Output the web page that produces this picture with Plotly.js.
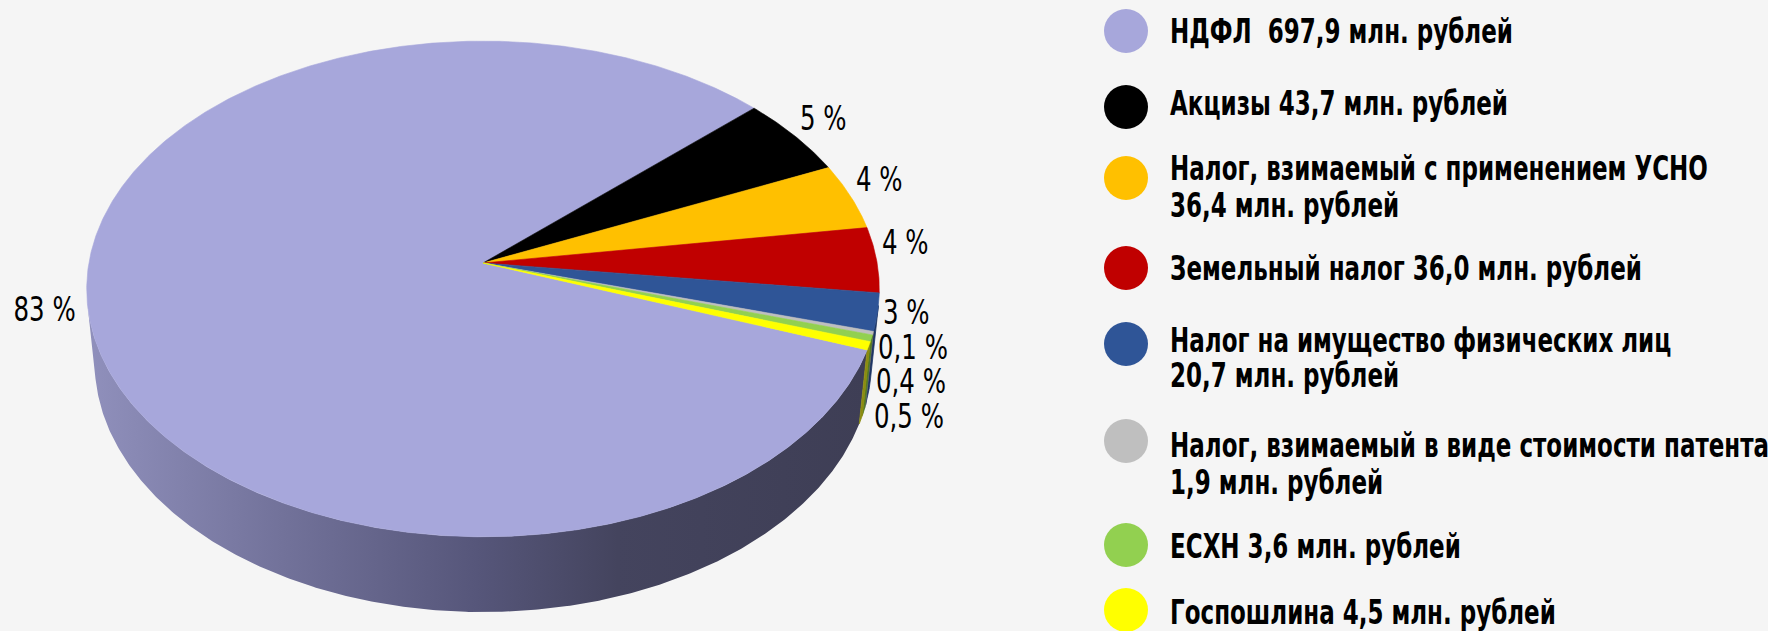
<!DOCTYPE html>
<html>
<head>
<meta charset="utf-8">
<script src="https://cdn.plot.ly/plotly-3.0.1.min.js"></script>
<style>
  html, body { margin: 0; padding: 0; background: #f5f5f5; }
  #chart { width: 1768px; height: 631px; }
</style>
</head>
<body>
<div id="chart"></div>
<script>
// ---------------- DATA ----------------
const categories = [
  'НДФЛ',
  'Акцизы',
  'Налог, взимаемый с применением УСНО',
  'Земельный налог',
  'Налог на имущество физических лиц',
  'Налог, взимаемый в виде стоимости патента',
  'ЕСХН',
  'Госпошлина'
];
const values = [697.9, 43.7, 36.4, 36.0, 20.7, 1.9, 3.6, 4.5]; // млн. рублей
const pctLabels = ['83 %', '5 %', '4 %', '4 %', '3 %', '0,1 %', '0,4 %', '0,5 %'];
const legendLabels = [
  ['НДФЛ  697,9 млн. рублей'],
  ['Акцизы 43,7 млн. рублей'],
  ['Налог, взимаемый с применением УСНО', '36,4 млн. рублей'],
  ['Земельный налог 36,0 млн. рублей'],
  ['Налог на имущество физических лиц', '20,7 млн. рублей'],
  ['Налог, взимаемый в виде стоимости патента', '1,9 млн. рублей'],
  ['ЕСХН 3,6 млн. рублей'],
  ['Госпошлина 4,5 млн. рублей']
];

// ---------------- STYLE / LAYOUT CONSTANTS ----------------
const topColors  = ['#a7a7db', '#000000', '#ffc000', '#c00000', '#2f5597', '#bfbfbf', '#92d050', '#ffff00'];
const wallColors = ['#55557a', '#000000', '#8a6a00', '#6a0000', '#1c3462', '#6a6a6a', '#4f7a22', '#8c8c10'];
const W = 1768, H = 631;
const geo = { cx: 483, cy: 263, f: 2948, d: 7.48, tilt: 38.46, h: 0.241, startAngle: -20.0 };
const legendMarkerX = 1126, legendTextX = 1168;
const legendMarkerY = [31, 107, 178, 268, 344, 441, 545, 610];
const legendTextY   = [[31], [103], [168, 205], [268], [340, 375], [445, 482], [546], [612]];
const labelFont  = 'Liberation Sans Narrow, DejaVu Sans Condensed, Arial Narrow, sans-serif';
const pctFontSize = 34, pctStretch = 0.8;
const legFontSize = 33, legStretch = 0.775;

// ---------------- GEOMETRY (3D pie projection) ----------------
const S = Math.sin(geo.tilt * Math.PI / 180), C = Math.cos(geo.tilt * Math.PI / 180);
function proj(thDeg, z) {
  const t = thDeg * Math.PI / 180;
  const X = Math.cos(t), Y = Math.sin(t);
  const depth = geo.d + Y * C - z * S;
  const up = Y * S + z * C;
  return [geo.cx + geo.f * X / depth, geo.cy - geo.f * up / depth];
}
function arc(a1, a2, z) {
  const n = Math.max(2, Math.ceil(Math.abs(a2 - a1) / 0.4));
  const pts = [];
  for (let i = 0; i <= n; i++) pts.push(proj(a1 + (a2 - a1) * i / n, z));
  return pts;
}

const total = values.reduce((a, b) => a + b, 0);
const slices = [];
let ang = geo.startAngle;
values.forEach((v, i) => {
  const span = v / total * 360;
  slices.push({ i, start: ang, end: ang - span, mid: ang - span / 2 });
  ang -= span;
});

const traces = [];
// walls (front-facing part of the cylinder)
const beta = Math.asin(1 / (geo.d * C)) * 180 / Math.PI;
slices.forEach(sl => {
  [0, -360, 360].forEach(k => {
    const visHi = k - beta, visLo = k - 180 + beta;
    const hi = Math.min(sl.start, visHi), lo = Math.max(sl.end, visLo);
    if (hi - lo <= 0.01) return;
    const topA = arc(hi, lo, 0), botA = arc(lo, hi, -geo.h);
    const pts = topA.concat(botA);
    pts.push(topA[0]);
    const tr = {
      type: 'scatter', mode: 'lines', hoverinfo: 'skip', showlegend: false,
      x: pts.map(p => p[0]), y: pts.map(p => p[1]),
      fill: 'toself', fillcolor: wallColors[sl.i],
      line: { width: 0.8, color: wallColors[sl.i] }
    };
    if (sl.i === 0) {
      tr.fillgradient = {
        type: 'horizontal',
        colorscale: [[0, '#9090bc'], [0.25, '#72729a'], [0.5, '#56567a'], [0.68, '#44445e'], [1, '#3e3e55']]
      };
      tr.line = { width: 0, color: 'rgba(0,0,0,0)' };
    }
    traces.push(tr);
  });
});
// top faces
slices.forEach(sl => {
  const a = arc(sl.start, sl.end, 0);
  const ctr = [geo.cx, geo.cy];
  const pts = [ctr].concat(a, [ctr]);
  traces.push({
    type: 'scatter', mode: 'lines', hoverinfo: 'skip', showlegend: false,
    x: pts.map(p => p[0]), y: pts.map(p => p[1]),
    fill: 'toself', fillcolor: topColors[sl.i],
    line: { width: 0.6, color: topColors[sl.i] }
  });
});

// percentage labels
const annotations = [];
const annStretch = [];
let lastLowY = -1e9;
slices.forEach(sl => {
  const e = proj(sl.mid, 0);
  const cosm = Math.cos(sl.mid * Math.PI / 180), sinm = Math.sin(sl.mid * Math.PI / 180);
  let x, y, xa;
  if (cosm >= 0) {
    xa = 'left'; x = e[0] + 3;
    if (sinm > 0) { y = e[1] - 18; }
    else { y = Math.max(e[1], lastLowY + 34.5); lastLowY = y; }
  } else {
    xa = 'right'; x = e[0] - 10; y = e[1] - 3;
  }
  annotations.push({
    x, y, xref: 'x', yref: 'y', xanchor: xa, yanchor: 'middle', showarrow: false,
    text: pctLabels[sl.i], font: { family: labelFont, size: pctFontSize, color: '#000' }
  });
  annStretch.push({ k: pctStretch, origin: xa });
});

// custom legend
traces.push({
  type: 'scatter', mode: 'markers', hoverinfo: 'skip', showlegend: false,
  x: categories.map(() => legendMarkerX), y: legendMarkerY,
  marker: { size: 44, color: topColors, line: { width: 0 } }
});
legendLabels.forEach((lines, i) => {
  lines.forEach((ln, j) => {
    annotations.push({
      x: legendTextX, y: legendTextY[i][j], xref: 'x', yref: 'y',
      xanchor: 'left', yanchor: 'middle', showarrow: false,
      text: '<b>' + ln + '</b>', font: { family: labelFont, size: legFontSize, color: '#000' }
    });
    annStretch.push({ k: legStretch, origin: 'left' });
  });
});

const layout = {
  width: W, height: H,
  margin: { l: 0, r: 0, t: 0, b: 0 },
  paper_bgcolor: '#f5f5f5', plot_bgcolor: '#f5f5f5',
  xaxis: { range: [0, W], visible: false, fixedrange: true },
  yaxis: { range: [H, 0], visible: false, fixedrange: true },
  annotations,
  showlegend: false
};
Plotly.newPlot('chart', traces, layout, { staticPlot: true, displayModeBar: false }).then(gd => {
  // condense the text horizontally (narrow typeface look)
  gd.querySelectorAll('g.annotation').forEach(g => {
    const idx = +g.getAttribute('data-index');
    const st = annStretch[idx];
    if (!st) return;
    const t = g.querySelector('text.annotation-text');
    if (!t) return;
    t.style.transformBox = 'fill-box';
    t.style.transformOrigin = (st.origin === 'right' ? 'right' : 'left') + ' center';
    t.style.transform = 'scaleX(' + st.k + ')';
  });
});
</script>
</body>
</html>
